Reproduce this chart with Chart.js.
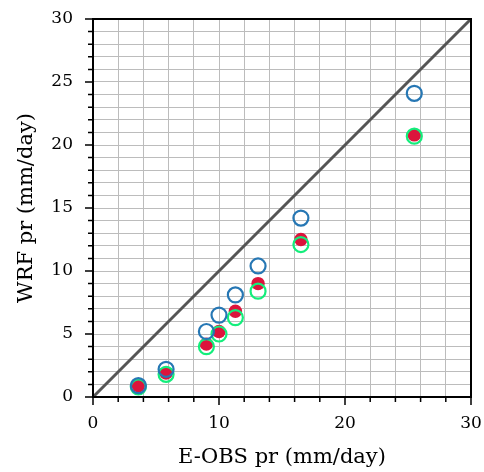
<!DOCTYPE html>
<html>
<head>
<meta charset="utf-8">
<script src="https://cdn.jsdelivr.net/npm/chart.js@4.4.1/dist/chart.umd.min.js"></script>
<style>
  html, body { margin: 0; padding: 0; background: #fff; }
  #wrap { width: 484px; height: 472px; }
</style>
</head>
<body>
<div id="wrap"><canvas id="c" width="484" height="472"></canvas></div>
<script>
// E-OBS vs WRF precipitation scatter
var eobs   = [3.6, 5.8, 9.0, 10.0, 11.3, 13.1, 16.5, 25.5];
var wrfA   = [0.9, 2.2, 5.2, 6.5, 8.1, 10.4, 14.2, 24.1];  // blue open
var wrfB   = [0.9, 1.9, 4.2, 5.2, 6.8, 9.0, 12.5, 20.8];   // red filled
var wrfC   = [0.8, 1.8, 4.0, 5.0, 6.3, 8.4, 12.1, 20.7];   // green open
var diag   = [0, 30];
var axisMin = 0, axisMax = 30;

function pts(xs, ys) { return xs.map(function (x, i) { return { x: x, y: ys[i] }; }); }

var serif = '"DejaVu Serif", "Liberation Serif", serif';

// fixed axis sizes, no extra room for overhanging labels
function fixSize(w, h) {
  return function (s) {
    if (w != null) s.width = w;
    if (h != null) s.height = h;
    s.paddingTop = s.paddingBottom = s.paddingLeft = s.paddingRight = 0;
  };
}

// ticks drawn by hand so major/minor can differ in length
var tickMarks = {
  id: 'tickMarks',
  afterDraw: function (chart) {
    var ctx = chart.ctx, a = chart.chartArea;
    var xs = chart.scales.x, ys = chart.scales.y;
    ctx.save();
    ctx.strokeStyle = '#000';
    ctx.lineWidth = 1.5;
    ctx.beginPath();
    for (var v = axisMin; v <= axisMax; v += 2) {
      var px = xs.getPixelForValue(v);
      var len = v % 10 === 0 ? 8 : 5;
      ctx.moveTo(px, a.bottom); ctx.lineTo(px, a.bottom + len);
    }
    for (var w = axisMin; w <= axisMax; w += 1) {
      var py = ys.getPixelForValue(w);
      var l2 = w % 5 === 0 ? 8 : 5;
      ctx.moveTo(a.left, py); ctx.lineTo(a.left - l2, py);
    }
    ctx.stroke();
    ctx.lineWidth = 2;
    ctx.strokeRect(a.left, a.top, a.right - a.left, a.bottom - a.top);
    ctx.restore();
  }
};

new Chart(document.getElementById('c').getContext('2d'), {
  type: 'scatter',
  data: {
    datasets: [
      { type: 'line', data: pts(diag, diag), borderColor: '#555555', borderWidth: 3, pointRadius: 0, order: 4 },
      { data: pts(eobs, wrfB), backgroundColor: '#dc143c', borderColor: '#dc143c', borderWidth: 0, pointRadius: 6.7, order: 3 },
      { data: pts(eobs, wrfC), backgroundColor: 'rgba(0,0,0,0)', borderColor: '#13ee7b', borderWidth: 2.2, pointRadius: 7.5, order: 2 },
      { data: pts(eobs, wrfA), backgroundColor: 'rgba(0,0,0,0)', borderColor: '#2677b4', borderWidth: 2.2, pointRadius: 7.5, order: 1 }
    ]
  },
  options: {
    responsive: false, animation: false,
    layout: { padding: { left: 0, top: 19, right: 13, bottom: 0 } },
    plugins: { legend: { display: false }, tooltip: { enabled: false } },
    scales: {
      x: {
        type: 'linear', min: axisMin, max: axisMax,
        afterFit: fixSize(null, 75),
        border: { display: false },
        grid: { color: '#bcbcbc', lineWidth: 1, drawTicks: false },
        ticks: { stepSize: 2, padding: 16, autoSkip: false, maxRotation: 0, minRotation: 0, color: '#000', font: { family: serif, size: 17 },
          callback: function (v) { return v % 10 === 0 ? v : ''; } },
        title: { display: true, text: 'E-OBS pr (mm/day)', color: '#000', font: { family: serif, size: 21 }, padding: 2 }
      },
      y: {
        type: 'linear', min: axisMin, max: axisMax,
        afterFit: fixSize(93, null),
        border: { display: false },
        grid: { color: '#bcbcbc', lineWidth: 1, drawTicks: false },
        ticks: { stepSize: 1, padding: 20, autoSkip: false, color: '#000', font: { family: serif, size: 17 },
          callback: function (v) { return v % 5 === 0 ? v : ''; } },
        title: { display: true, text: 'WRF pr (mm/day)', color: '#000', font: { family: serif, size: 21 }, padding: 14 }
      }
    }
  },
  plugins: [tickMarks]
});
</script>
</body>
</html>
